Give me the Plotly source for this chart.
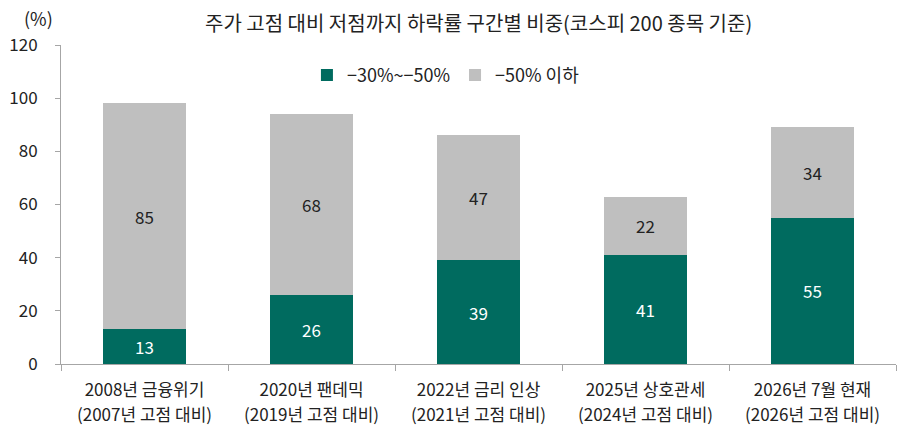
import plotly.graph_objects as go

categories_line1 = [
    "2008년 금융위기",
    "2020년 팬데믹",
    "2022년 금리 인상",
    "2025년 상호관세",
    "2026년 7월 현재",
]
categories_line2 = [
    "(2007년 고점 대비)",
    "(2019년 고점 대비)",
    "(2021년 고점 대비)",
    "(2024년 고점 대비)",
    "(2026년 고점 대비)",
]
series_30_50 = [13, 26, 39, 41, 55]
series_50_below = [85, 68, 47, 22, 34]
name_30_50 = "−30%~−50%"
name_50_below = "−50% 이하"
title_text = "주가 고점 대비 저점까지 하락률 구간별 비중(코스피 200 종목 기준)"
y_unit = "(%)"

FONT = "Noto Sans CJK KR"
TXT = "#222222"

fig = go.Figure()
fig.add_trace(go.Bar(
    x=categories_line1, y=series_30_50, name=name_30_50,
    marker=dict(color="#006B5F", line=dict(width=0)),
    text=series_30_50, textposition="inside", insidetextanchor="middle",
    textfont=dict(color="white", size=17, family=FONT),
))
fig.add_trace(go.Bar(
    x=categories_line1, y=series_50_below, name=name_50_below,
    marker=dict(color="#BFBFBF", line=dict(width=0)),
    text=series_50_below, textposition="inside", insidetextanchor="middle",
    textfont=dict(color=TXT, size=17, family=FONT),
))

annotations = [
    dict(text=title_text, x=0.5, xref="paper", xanchor="center", y=1.0, yref="paper",
         yanchor="middle", yshift=23, showarrow=False,
         font=dict(size=20, family=FONT, color=TXT)),
    dict(text=y_unit, x=0.0, xref="paper", xanchor="center", xshift=-23, y=1.0, yref="paper",
         yanchor="middle", yshift=27, showarrow=False,
         font=dict(size=18, family=FONT, color=TXT)),
]
for c, l2 in zip(categories_line1, categories_line2):
    annotations.append(dict(text=l2, x=c, xref="x", xanchor="center", y=0, yref="paper",
                            yanchor="middle", yshift=-49, showarrow=False,
                            font=dict(size=17, family=FONT, color=TXT)))

fig.update_layout(
    barmode="stack",
    bargap=0.5,
    width=907, height=425,
    margin=dict(l=61, r=11, t=45, b=61, autoexpand=False),
    paper_bgcolor="white", plot_bgcolor="white",
    font=dict(family=FONT, size=17, color=TXT),
    showlegend=True,
    legend=dict(orientation="h", x=0.461, xanchor="center", y=0.905, yanchor="middle",
                traceorder="normal",
                font=dict(size=18, family=FONT, color=TXT), itemwidth=30,
                bgcolor="rgba(0,0,0,0)"),
    annotations=annotations,
)

fig.update_xaxes(
    automargin=False,
    showline=True, linecolor="#A6A6A6", linewidth=1,
    ticks="outside", tickson="boundaries", ticklen=6, tickcolor="#A6A6A6",
    ticklabelstandoff=11,
    showgrid=False, tickfont=dict(size=17, family=FONT, color=TXT),
)
fig.update_yaxes(
    automargin=False,
    range=[0, 120], dtick=20, showline=True, linecolor="#A6A6A6", linewidth=1,
    ticks="outside", ticklen=5, tickcolor="#A6A6A6", showgrid=False, zeroline=False,
    ticklabelstandoff=14,
    tickfont=dict(size=17, family=FONT, color=TXT),
)

fig.write_html(
    "out.html",
    config={"displayModeBar": False},
    post_script="document.body.style.margin='0';document.body.style.overflow='hidden';",
)
